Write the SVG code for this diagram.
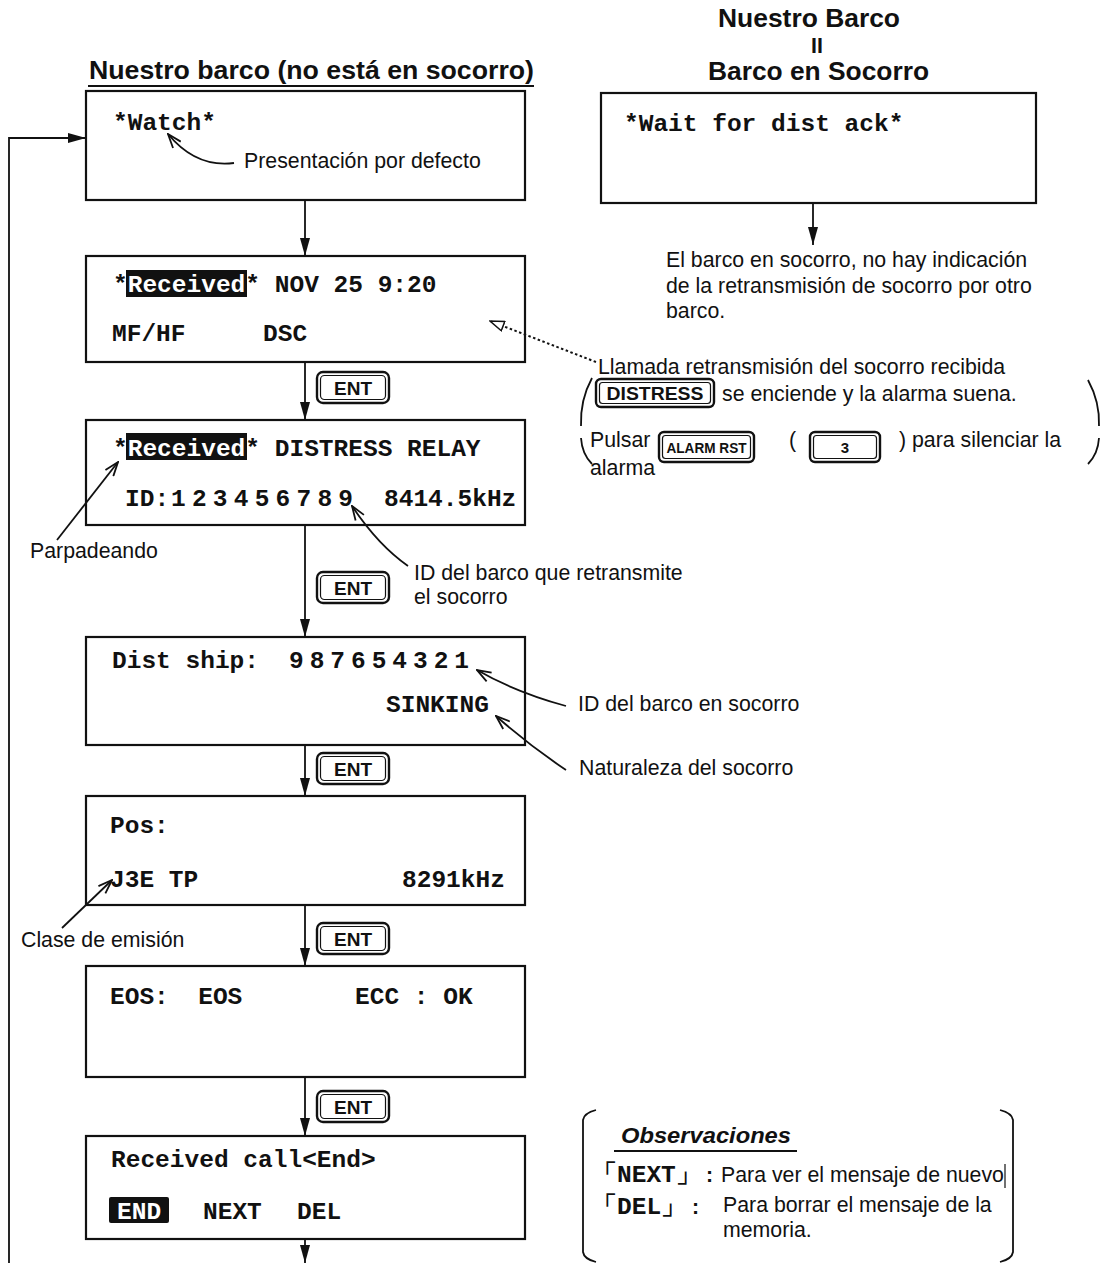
<svg xmlns="http://www.w3.org/2000/svg" width="1104" height="1263" viewBox="0 0 1104 1263">
<style>
.box{fill:#fff;stroke:#111;stroke-width:2.2}
.lcd{font-family:"Liberation Mono","Courier New",monospace;font-weight:bold;font-size:24.5px;fill:#111}
.inv{fill:#fff}
.hl{fill:#111}
.lbl{font-family:"Liberation Sans",Arial,sans-serif;font-size:21.3px;fill:#111}
.hdr{font-family:"Liberation Sans",Arial,sans-serif;font-size:25px;font-weight:bold;fill:#111}
.flow{fill:none;stroke:#111;stroke-width:1.8}
.note{fill:none;stroke:#111;stroke-width:1.8}
.keyO{fill:#fff;stroke:#111;stroke-width:2.4}
.keyI{fill:none;stroke:#111;stroke-width:1.2}
.keyT{font-family:"Liberation Sans",Arial,sans-serif;font-weight:bold;fill:#111;text-anchor:middle}
</style>
<defs>
<marker id="tri" viewBox="0 0 18 10" refX="18" refY="5" markerWidth="18" markerHeight="10" markerUnits="userSpaceOnUse" orient="auto">
<path d="M0,0 L18,5 L0,10 z" fill="#111"/>
</marker>
<marker id="vee" viewBox="0 0 16 12" refX="15" refY="6" markerWidth="16" markerHeight="12" markerUnits="userSpaceOnUse" orient="auto">
<path d="M1,1 L15,6 L1,11" fill="none" stroke="#111" stroke-width="1.8"/>
</marker>
<marker id="hollow" viewBox="0 0 16 12" refX="15" refY="6" markerWidth="16" markerHeight="12" markerUnits="userSpaceOnUse" orient="auto">
<path d="M1,1 L15,6 L1,11 z" fill="#fff" stroke="#111" stroke-width="1.5"/>
</marker>
</defs>
<rect width="1104" height="1263" fill="#fff"/>

<!-- column headings -->
<g id="hdr-own">
<text class="hdr" x="89" y="79" textLength="445" lengthAdjust="spacingAndGlyphs">Nuestro barco (no está en socorro)</text>
<line x1="88" y1="86" x2="534" y2="86" stroke="#111" stroke-width="2"/>
</g>
<g id="hdr-dist">
<text class="hdr" x="718" y="27" textLength="182" lengthAdjust="spacingAndGlyphs">Nuestro Barco</text>
<text class="lbl" x="811" y="53" font-size="21" font-weight="bold">II</text>
<text class="hdr" x="708" y="80" textLength="221" lengthAdjust="spacingAndGlyphs">Barco en Socorro</text>
</g>

<!-- screens -->
<g id="scr-watch">
<rect class="box" x="86" y="91" width="439" height="109"/>
<text class="lcd" x="113" y="130">*Watch*</text>
</g>
<g id="scr-wait">
<rect class="box" x="601" y="93" width="435" height="110"/>
<text class="lcd" x="624" y="131">*Wait for dist ack*</text>
</g>
<g id="scr-received">
<rect class="box" x="86" y="256" width="439" height="106"/>
<rect class="hl" x="126" y="270" width="121" height="27"/>
<text class="lcd" x="113" y="292" xml:space="preserve">*<tspan class="inv">Received</tspan>* NOV 25 9:20</text>
<text class="lcd" x="112" y="341">MF/HF</text>
<text class="lcd" x="263" y="341">DSC</text>
</g>
<g id="scr-relay">
<rect class="box" x="86" y="420" width="439" height="105"/>
<rect class="hl" x="126" y="433" width="121" height="27"/>
<text class="lcd" x="113" y="456" xml:space="preserve">*<tspan class="inv">Received</tspan>* DISTRESS RELAY</text>
<text class="lcd" x="125" y="506">ID:</text>
<text class="lcd" x="171" y="506" textLength="182" lengthAdjust="spacing">1 2 3 4 5 6 7 8 9</text>
<text class="lcd" x="384" y="506">8414.5kHz</text>
</g>
<g id="scr-distship">
<rect class="box" x="86" y="637" width="439" height="108"/>
<text class="lcd" x="112" y="668">Dist ship:</text>
<text class="lcd" x="289" y="668" textLength="180" lengthAdjust="spacing">9 8 7 6 5 4 3 2 1</text>
<text class="lcd" x="386" y="712">SINKING</text>
</g>
<g id="scr-pos">
<rect class="box" x="86" y="796" width="439" height="109"/>
<text class="lcd" x="110" y="833">Pos:</text>
<text class="lcd" x="110" y="887">J3E TP</text>
<text class="lcd" x="402" y="887">8291kHz</text>
</g>
<g id="scr-eos">
<rect class="box" x="86" y="966" width="439" height="111"/>
<text class="lcd" x="110" y="1004" xml:space="preserve">EOS:  EOS</text>
<text class="lcd" x="355" y="1004">ECC : OK</text>
</g>
<g id="scr-end">
<rect class="box" x="86" y="1136" width="439" height="103"/>
<text class="lcd" x="111" y="1167">Received call&lt;End&gt;</text>
<rect class="hl" x="109" y="1197" width="60" height="26" rx="2"/>
<text class="lcd inv" x="117" y="1219">END</text>
<text class="lcd" x="203" y="1219">NEXT</text>
<text class="lcd" x="297" y="1219">DEL</text>
</g>

<!-- connectors -->
<g id="connectors">
<path class="flow" d="M305 200 V256" marker-end="url(#tri)"/>
<path class="flow" d="M305 362 V420" marker-end="url(#tri)"/>
<path class="flow" d="M305 525 V637" marker-end="url(#tri)"/>
<path class="flow" d="M305 745 V796" marker-end="url(#tri)"/>
<path class="flow" d="M305 905 V966" marker-end="url(#tri)"/>
<path class="flow" d="M305 1077 V1136" marker-end="url(#tri)"/>
<path class="flow" d="M305 1239 V1263" marker-end="url(#tri)"/>
<path class="flow" d="M9 1263 V138 H86" marker-end="url(#tri)"/>
<path class="flow" d="M813 203 V245" marker-end="url(#tri)"/>
<path d="M596 362 L490 321" fill="none" stroke="#111" stroke-width="2" stroke-dasharray="2.5 2.5" marker-end="url(#hollow)"/>
</g>

<!-- ENT keys -->
<g id="key-ent-1">
<rect class="keyO" x="317" y="372" width="72" height="31" rx="6"/>
<rect class="keyI" x="320.5" y="375.5" width="65" height="24" rx="4"/>
<text class="keyT" x="353" y="395" font-size="19">ENT</text>
</g>
<g id="key-ent-2">
<rect class="keyO" x="317" y="572" width="72" height="31" rx="6"/>
<rect class="keyI" x="320.5" y="575.5" width="65" height="24" rx="4"/>
<text class="keyT" x="353" y="595" font-size="19">ENT</text>
</g>
<g id="key-ent-3">
<rect class="keyO" x="317" y="753" width="72" height="31" rx="6"/>
<rect class="keyI" x="320.5" y="756.5" width="65" height="24" rx="4"/>
<text class="keyT" x="353" y="776" font-size="19">ENT</text>
</g>
<g id="key-ent-4">
<rect class="keyO" x="317" y="923" width="72" height="31" rx="6"/>
<rect class="keyI" x="320.5" y="926.5" width="65" height="24" rx="4"/>
<text class="keyT" x="353" y="946" font-size="19">ENT</text>
</g>
<g id="key-ent-5">
<rect class="keyO" x="317" y="1091" width="72" height="31" rx="6"/>
<rect class="keyI" x="320.5" y="1094.5" width="65" height="24" rx="4"/>
<text class="keyT" x="353" y="1114" font-size="19">ENT</text>
</g>

<!-- notes beside the screens -->
<g id="note-default">
<path class="note" d="M234 163 Q196 168 168 134" marker-end="url(#vee)"/>
<text class="lbl" x="244" y="168">Presentación por defecto</text>
</g>
<g id="note-noack">
<text class="lbl" x="666" y="267">El barco en socorro, no hay indicación</text>
<text class="lbl" x="666" y="293">de la retransmisión de socorro por otro</text>
<text class="lbl" x="666" y="318">barco.</text>
</g>
<g id="note-relay">
<text class="lbl" x="598" y="374">Llamada retransmisión del socorro recibida</text>
<path class="note" d="M592 378 Q580 400 581 426"/>
<path class="note" d="M581 438 Q582 454 592 464"/>
<path class="note" d="M1088 380 Q1100 402 1099 426"/>
<path class="note" d="M1099 438 Q1098 454 1088 464"/>
<rect class="keyO" x="596" y="379" width="118" height="28" rx="5"/>
<rect class="keyI" x="599.5" y="382.5" width="111" height="21" rx="3"/>
<text class="keyT" x="655" y="400" font-size="18" textLength="97" lengthAdjust="spacingAndGlyphs">DISTRESS</text>
<text class="lbl" x="722" y="401">se enciende y la alarma suena.</text>
<text class="lbl" x="590" y="447">Pulsar</text>
<rect class="keyO" x="659" y="432" width="95" height="30" rx="5"/>
<rect class="keyI" x="662.5" y="435.5" width="88" height="23" rx="3"/>
<text class="keyT" x="706.5" y="453" font-size="14" textLength="80" lengthAdjust="spacingAndGlyphs">ALARM RST</text>
<text class="lbl" x="789" y="447">(</text>
<rect class="keyO" x="810" y="432" width="70" height="30" rx="5"/>
<rect class="keyI" x="813.5" y="435.5" width="63" height="23" rx="3"/>
<text class="keyT" x="845" y="453" font-size="15">3</text>
<text class="lbl" x="899" y="447">)</text>
<text class="lbl" x="912" y="447">para silenciar la</text>
<text class="lbl" x="590" y="475">alarma</text>
</g>
<g id="note-blink">
<path class="note" d="M57 540 L118 462" marker-end="url(#vee)"/>
<text class="lbl" x="30" y="558">Parpadeando</text>
</g>
<g id="note-relayid">
<path class="note" d="M408 566 Q378 545 352 506" marker-end="url(#vee)"/>
<text class="lbl" x="414" y="580">ID del barco que retransmite</text>
<text class="lbl" x="414" y="604">el socorro</text>
</g>
<g id="note-distid">
<path class="note" d="M566 706 Q515 692 477 670" marker-end="url(#vee)"/>
<text class="lbl" x="578" y="711">ID del barco en socorro</text>
</g>
<g id="note-nature">
<path class="note" d="M566 770 Q530 746 496 716" marker-end="url(#vee)"/>
<text class="lbl" x="579" y="775">Naturaleza del socorro</text>
</g>
<g id="note-emission">
<path class="note" d="M62 928 L112 880" marker-end="url(#vee)"/>
<text class="lbl" x="21" y="947">Clase de emisión</text>
</g>

<!-- remarks -->
<g id="remarks">
<path class="note" d="M596 1110 Q584 1113 583 1120 V1252 Q584 1259 596 1262"/>
<path class="note" d="M1000 1110 Q1012 1113 1013 1120 V1252 Q1012 1259 1000 1262"/>
<text class="lbl" x="621" y="1143" font-weight="bold" font-style="italic" font-size="22" textLength="170" lengthAdjust="spacingAndGlyphs">Observaciones</text>
<line x1="614" y1="1151" x2="797" y2="1151" stroke="#111" stroke-width="2"/>
<text class="lcd" x="592" y="1182" font-size="21" font-family="'Liberation Mono','Noto Sans CJK JP',monospace">「NEXT」</text>
<text class="lbl" x="706" y="1182" font-weight="bold">:</text>
<text class="lbl" x="721" y="1182">Para ver el mensaje de nuevo</text>
<line x1="1005" y1="1164" x2="1005" y2="1188" stroke="#111" stroke-width="1.2"/>
<text class="lcd" x="592" y="1214" font-size="21" font-family="'Liberation Mono','Noto Sans CJK JP',monospace">「DEL」</text>
<text class="lbl" x="692" y="1214" font-weight="bold">:</text>
<text class="lbl" x="723" y="1212">Para borrar el mensaje de la</text>
<text class="lbl" x="723" y="1237">memoria.</text>
</g>
</svg>
